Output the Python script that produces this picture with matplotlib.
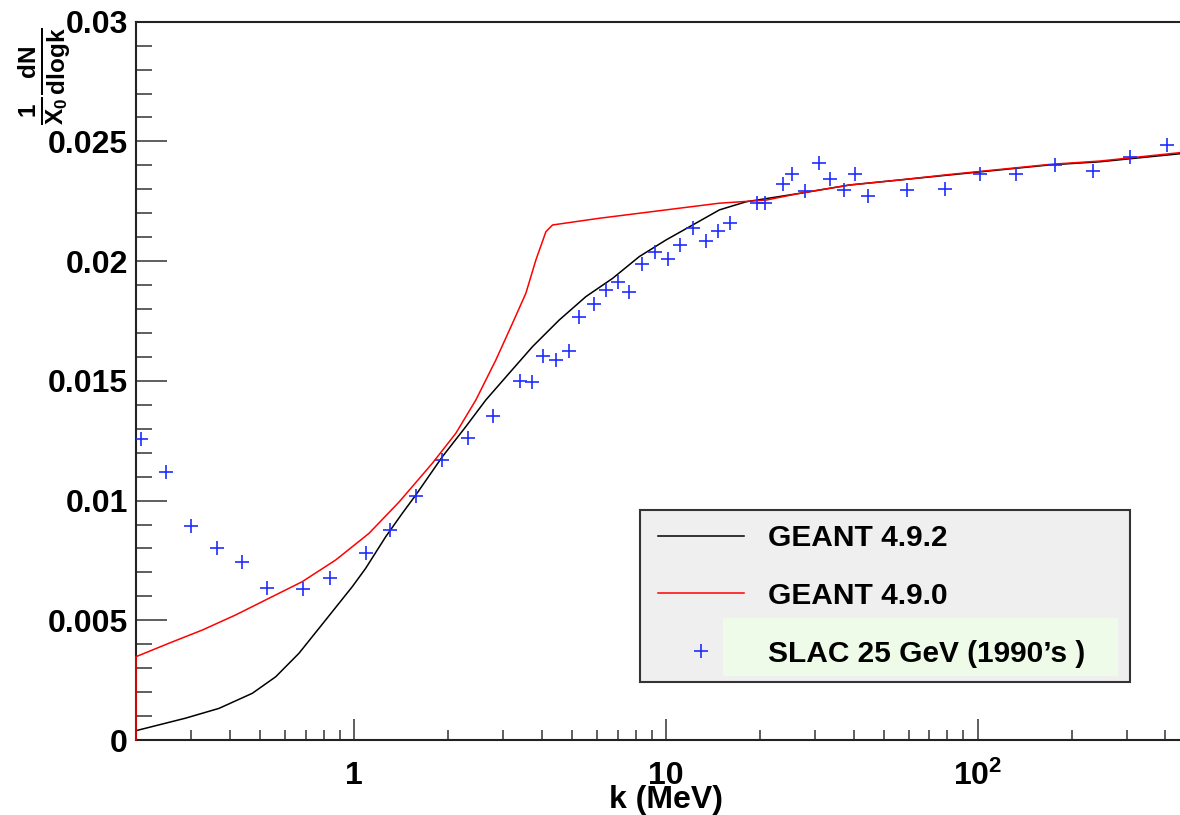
import matplotlib
matplotlib.use("Agg")
import numpy as np
import matplotlib.pyplot as plt
from matplotlib.path import Path
from matplotlib.patches import Rectangle
from matplotlib.ticker import (FixedLocator, FixedFormatter, LogLocator,
                               MultipleLocator, NullFormatter, FuncFormatter)

# ---------------- data ----------------
# GEANT 4.9.2 (black histogram)
g492_k = [0.2, 0.288, 0.369, 0.472, 0.561, 0.666, 0.811, 0.987, 1.09, 1.264,
          1.429, 1.578, 1.92, 2.284, 2.647, 3.146, 3.737, 4.55, 5.544, 6.749,
          8.22, 10.0, 12.19, 14.85, 18.09, 26.83, 38.82, 56.18, 81.32, 117.7,
          170.3, 246.5, 356.7, 500.0]
g492_v = [0.00039, 0.00091, 0.00132, 0.00195, 0.00264, 0.00362, 0.00501, 0.00640,
          0.00717, 0.00849, 0.00947, 0.01023, 0.01183, 0.01309, 0.01420, 0.01532,
          0.01643, 0.01754, 0.01852, 0.01928, 0.02019, 0.02088, 0.02151, 0.02214,
          0.02248, 0.02283, 0.02318, 0.02339, 0.02360, 0.02381, 0.02402, 0.02415,
          0.02436, 0.02455]

# GEANT 4.9.0 (red histogram)
g490_k = [0.2, 0.2, 0.255, 0.326, 0.417, 0.534, 0.682, 0.874, 1.117, 1.395,
          1.784, 2.121, 2.459, 2.850, 3.222, 3.558, 3.831, 4.125, 4.331, 6.116,
          10.01, 14.85, 20.97, 26.83, 38.82, 56.18, 81.32, 117.7, 170.3, 246.5,
          356.7, 500.0]
g490_v = [0.0, 0.00348, 0.00404, 0.00459, 0.00522, 0.00592, 0.00661, 0.00752,
          0.00863, 0.00994, 0.01156, 0.01281, 0.01420, 0.01587, 0.01740, 0.01866,
          0.02005, 0.02123, 0.02151, 0.02179, 0.02214, 0.02242, 0.02255, 0.02283,
          0.02318, 0.02339, 0.02362, 0.02383, 0.02404, 0.02418, 0.02440, 0.02460]

# SLAC 25 GeV data points
slac_k = [0.208, 0.250, 0.301, 0.364, 0.438, 0.527, 0.686, 0.838, 1.09, 1.305,
          1.578, 1.912, 2.328, 2.801, 3.404, 3.720, 4.044, 4.442, 4.875, 5.277,
          5.865, 6.427, 7.003, 7.635, 8.386, 9.254, 10.13, 11.13, 12.25, 13.46,
          14.74, 16.11, 19.60, 20.86, 23.71, 25.42, 27.84, 30.94, 33.66, 37.14,
          40.29, 44.45, 59.29, 78.38, 102.0, 133.1, 176.7, 234.6, 307.6, 405.3]
slac_v = [0.01259, 0.01119, 0.00894, 0.00802, 0.00744, 0.00635, 0.00630, 0.00675,
          0.00779, 0.00876, 0.01018, 0.01168, 0.01263, 0.01353, 0.01498, 0.01494,
          0.01603, 0.01588, 0.01624, 0.01766, 0.01819, 0.01878, 0.01912, 0.01873,
          0.01989, 0.02037, 0.02010, 0.02068, 0.02138, 0.02086, 0.02125, 0.02158,
          0.02243, 0.02243, 0.02323, 0.02362, 0.02295, 0.02410, 0.02341, 0.02299,
          0.02365, 0.02271, 0.02299, 0.02302, 0.02362, 0.02362, 0.02403, 0.02375,
          0.02437, 0.02487]

series_labels = ["GEANT 4.9.2", "GEANT 4.9.0", "SLAC 25 GeV (1990\u2019s )"]
x_major = [1, 10, 100]
x_major_labels = ["1", "10", r"$10^{2}$"]
x_label = "k (MeV)"
y_label = r"$\frac{1}{X_{0}}\frac{dN}{dlogk}$"

# ---------------- style ----------------
plt.rcParams.update({
    "font.family": ["Liberation Sans", "DejaVu Sans"],
    "font.weight": "bold",
    "mathtext.fontset": "custom",
    "mathtext.rm": "Liberation Sans:bold",
    "mathtext.it": "Liberation Sans:bold",
    "mathtext.bf": "Liberation Sans:bold",
    "mathtext.sf": "Liberation Sans:bold",
    "mathtext.default": "bf",
})

W, H = 1180, 815
fig = plt.figure(figsize=(W / 100, H / 100), dpi=100)
fig.patch.set_facecolor("white")
ax = fig.add_axes([136 / W, (H - 740) / H, (1195.7 - 136) / W, (740 - 21.7) / H])

ax.plot(g492_k, g492_v, color="black", lw=1.1, zorder=3, label=series_labels[0])
ax.plot(g490_k, g490_v, color="#ff0000", lw=1.1, zorder=3, clip_on=False,
        label=series_labels[1])
ax.plot(slac_k, slac_v, ls="none", marker="+", ms=10, mew=1.2, color="#1f2eff",
        zorder=4, label=series_labels[2])

ax.set_xscale("log")
ax.set_xlim(0.2, 500)
ax.set_ylim(0, 0.03)

for s in ax.spines.values():
    s.set_linewidth(1.5)
    s.set_color("#222222")

ax.xaxis.set_major_locator(FixedLocator(x_major))
ax.xaxis.set_major_formatter(FixedFormatter(x_major_labels))
ax.xaxis.set_minor_locator(LogLocator(base=10, subs=np.arange(2, 10), numticks=30))
ax.xaxis.set_minor_formatter(NullFormatter())
ax.yaxis.set_major_locator(MultipleLocator(0.005))
ax.yaxis.set_minor_locator(MultipleLocator(0.001))
ax.yaxis.set_major_formatter(FuncFormatter(lambda v, p: "%g" % round(v, 4)))

tc = "#333333"
ax.tick_params(axis="x", which="major", direction="in", length=15, width=1.1,
               labelsize=23, pad=14.9, top=False, color=tc)
ax.tick_params(axis="x", which="minor", direction="in", length=7.2, width=1.1,
               top=False, color=tc)
ax.tick_params(axis="y", which="major", direction="in", length=22.3, width=1.1,
               labelsize=23, pad=5.8, right=False, color=tc)
ax.tick_params(axis="y", which="minor", direction="in", length=11.3, width=1.1,
               right=False, color=tc)

ax.set_xlabel(x_label, fontsize=23, fontweight="bold")
ax.xaxis.set_label_coords(0.5, -0.0627)
ax.set_ylabel(y_label, fontsize=25)
ax.yaxis.set_label_coords(-0.0592, 0.924)

# legend box (ROOT style: fixed rectangle)
frame = Rectangle((640 / W, 1 - 682 / H), 490 / W, 172 / H,
                  transform=fig.transFigure, facecolor="#efefef",
                  edgecolor="#333333", linewidth=1.5, zorder=4.8, clip_on=False)
ax.add_artist(frame)

leg = ax.legend(loc="upper left", bbox_to_anchor=(658 / W, 1 - 524 / H),
                bbox_transform=fig.transFigure,
                prop={"weight": "bold", "size": 21.5},
                frameon=False, borderpad=0, labelspacing=1.0,
                handlelength=2.88, handletextpad=0.8,
                borderaxespad=0, numpoints=1)
leg.set_zorder(5)


def green_box(x0, y0, width, height, mutation_size):
    m = mutation_size
    l, r, b, t = 1.5 * m, 1.1 * m, 0.28 * m, 0.74 * m
    xa, xb, ya, yb = x0 - l, x0 + width + r, y0 - b, y0 + height + t
    return Path([(xa, ya), (xb, ya), (xb, yb), (xa, yb), (xa, ya)],
                [Path.MOVETO, Path.LINETO, Path.LINETO, Path.LINETO, Path.CLOSEPOLY])


leg.get_texts()[2].set_bbox(dict(boxstyle=green_box, facecolor="#edfbe8",
                                 edgecolor="none"))

fig.savefig("out.png", dpi=100)
